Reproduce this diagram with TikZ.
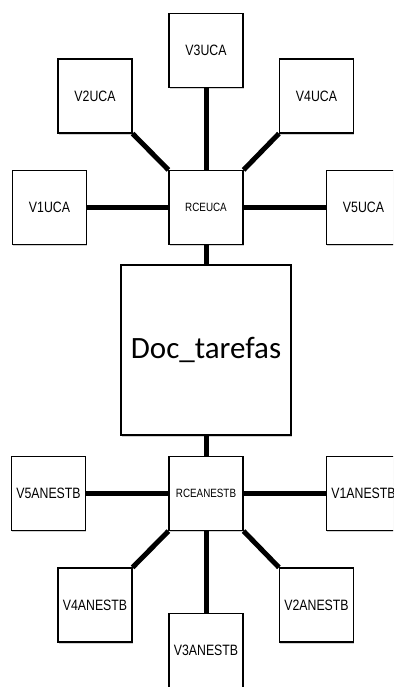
\documentclass[tikz,border=0pt]{standalone}
\usepackage{fontspec}
\setmainfont{Liberation Sans}
\newfontfamily\labfont[FakeStretch=0.82]{Liberation Sans}
\newfontfamily\docfont{Carlito}
\usetikzlibrary{shadows,backgrounds}
\begin{document}
\begin{tikzpicture}[x=1pt,y=-1pt,
  box/.style={draw=black, line width=1.1pt, fill=white, inner sep=0pt,
    minimum width=74pt, minimum height=74pt,
    drop shadow={shadow xshift=0.6pt, shadow yshift=-1.6pt, fill=black, opacity=0.18},
    font=\labfont\fontsize{15}{17}\selectfont},
  hub/.style={box, font=\labfont\fontsize{12}{14}\selectfont},
  docbox/.style={box, minimum width=170pt, minimum height=170pt,
    font=\docfont\fontsize{31}{35}\selectfont},
  conn/.style={line width=5pt, black}]
\useasboundingbox (0,0) rectangle (393,687);
\clip (0,0) rectangle (393,687);
% top group
\node[box] (v3u) at (206,50.5) {V3UCA};
\node[box] (v2u) at (95,96) {V2UCA};
\node[box] (v4u) at (316.5,96) {V4UCA};
\node[box] (v1u) at (49.5,207.5) {V1UCA};
\node[hub] (rceu) at (206,207.5) {RCEUCA};
\node[box] (v5u) at (363.5,207.5) {V5UCA};
% document
\node[docbox] (doc) at (206,350) {Doc\_tarefas};
% bottom group
\node[hub] (rcea) at (206,493.5) {RCEANESTB};
\node[box] (v5a) at (48.5,493.5) {V5ANESTB};
\node[box] (v1a) at (363.5,493.5) {V1ANESTB};
\node[box] (v4a) at (95,605) {V4ANESTB};
\node[box] (v2a) at (316.5,605) {V2ANESTB};
\node[box] (v3a) at (206,650.5) {V3ANESTB};
% connectors
\begin{scope}[on background layer]
\fill[white] (0,0) rectangle (393,687);
\draw[conn] (v3u.south) -- (rceu.north);
\draw[conn] (v2u.south east) -- (rceu.north west);
\draw[conn] (v4u.south west) -- (rceu.north east);
\draw[conn] (v1u.east) -- (rceu.west);
\draw[conn] (v5u.west) -- (rceu.east);
\draw[conn] (rceu.south) -- (doc.north);
\draw[conn] (doc.south) -- (rcea.north);
\draw[conn] (v5a.east) -- (rcea.west);
\draw[conn] (v1a.west) -- (rcea.east);
\draw[conn] (v4a.north east) -- (rcea.south west);
\draw[conn] (v2a.north west) -- (rcea.south east);
\draw[conn] (v3a.north) -- (rcea.south);
\end{scope}
\end{tikzpicture}
\end{document}
